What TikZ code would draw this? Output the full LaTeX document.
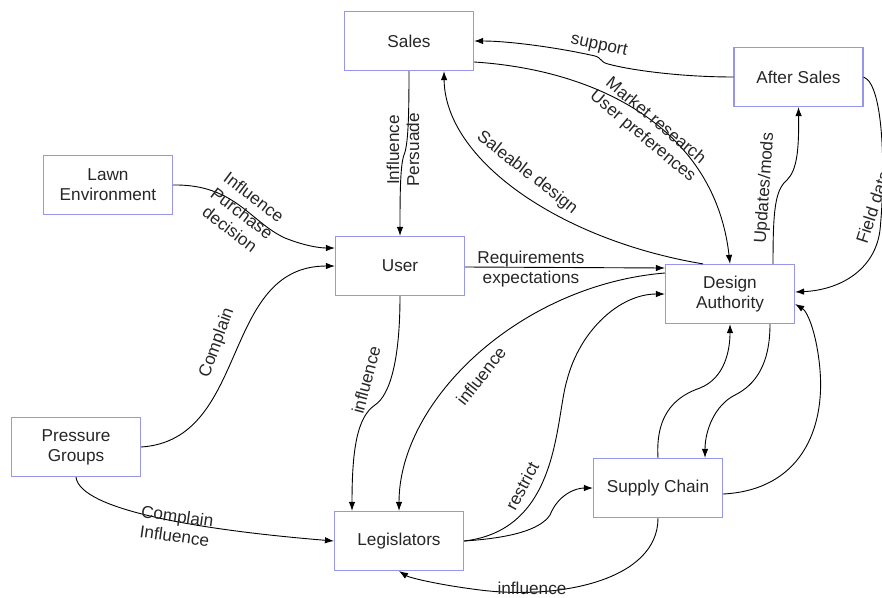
\documentclass[tikz,border=0pt]{standalone}
\usepackage{fontspec}
\setmainfont{Liberation Sans}
\usetikzlibrary{arrows.meta}
\definecolor{boxblue}{RGB}{150,150,235}
\begin{document}
\begin{tikzpicture}[x=1pt,y=-1pt,
 box/.style={draw=boxblue, line width=1.2pt, minimum width=129pt, minimum height=59pt, align=center, inner sep=0pt, font=\fontsize{17.2}{20}\selectfont, text=black!85},
 lbl/.style={font=\fontsize{17.2}{20}\selectfont, align=center, inner sep=0pt, text=black!85},
 conn/.style={line width=0.9pt, -{Latex[length=9pt,width=6.5pt]}}]
\useasboundingbox (0,0) rectangle (882,597);
\node[box] (sales) at (409,41) {Sales};
\node[box] (after) at (798.5,77) {After Sales};
\node[box] (lawn) at (108,185) {Lawn\\Environment};
\node[box] (user) at (400,266) {User};
\node[box] (da) at (730,294) {Design\\Authority};
\node[box] (pg) at (76,447) {Pressure\\Groups};
\node[box] (sc) at (658,488) {Supply Chain};
\node[box] (leg) at (399,541) {Legislators};
% connectors
\draw[conn] (after.west) .. controls (680,77) and (630,70) .. (608,64) .. controls (600,62) and (602,58) .. (595,56) .. controls (560,48) and (510,41) .. (sales.east);
\draw[conn] ([yshift=-21pt]sales.east) .. controls (600,70) and (715,130) .. (da.north);
\draw[conn] ([xshift=-27pt]da.north) .. controls (560,240) and (445,160) .. ([xshift=35pt]sales.south);
\draw[conn] (sales.south) .. controls (409,120) and (408,145) .. (404,155) .. controls (400,165) and (400,200) .. (user.north);
\draw[conn] (lawn.east) .. controls (235,184) and (250,222) .. (285,238) .. controls (305,246) and (320,248) .. ([yshift=18pt]user.west);
\draw[conn] (pg.east) .. controls (250,440) and (220,266) .. (user.west);
\draw[conn] ([yshift=-1pt]user.east) -- ([yshift=26pt]da.west);
\draw[conn] (user.south) .. controls (400,360) and (390,395) .. (375,405) .. controls (357,417) and (352,450) .. ([xshift=-47pt]leg.north);
\draw[conn] ([yshift=21pt]da.west) .. controls (520,285) and (399,400) .. (leg.north);
\draw[conn] (leg.east) .. controls (510,538) and (540,530) .. (550,515) .. controls (558,495) and (575,488) .. (sc.west);
\draw[conn] (leg.east) .. controls (560,530) and (555,420) .. (567,380) .. controls (580,330) and (620,294) .. (da.west);
\draw[conn] (sc.north) .. controls (655,410) and (680,395) .. (700,388) .. controls (725,378) and (730,350) .. (da.south);
\draw[conn] ([xshift=40pt]da.south) .. controls (770,365) and (755,385) .. (735,395) .. controls (715,405) and (705,430) .. ([xshift=47pt]sc.north);
\draw[conn] ([yshift=-6pt]sc.east) .. controls (800,490) and (825,430) .. (820,370) .. controls (817,335) and (808,312) .. ([yshift=-10pt]da.east);
\draw[conn] ([xshift=43pt]da.north) .. controls (773,210) and (775,190) .. (787,180) .. controls (797,170) and (799,150) .. (after.south);
\draw[conn] (after.east) .. controls (885,85) and (885,180) .. (880,230) .. controls (875,270) and (840,290) .. ([yshift=2pt]da.east);
\draw[conn] (sc.south) .. controls (658,580) and (560,600) .. (480,590) .. controls (440,585) and (410,578) .. (leg.south);
\draw[conn] (pg.south) .. controls (80,510) and (200,530) .. (leg.west);
% labels
\node[lbl, rotate=-12] (l1) at (599,46) {support};
\node[lbl, rotate=-40] (l2) at (649,129) {Market research\\User preferences};
\node[lbl, rotate=-38] (l3) at (527,173) {Saleable design};
\node[lbl, rotate=90] (l4) at (403,150) {Influence\\Persuade};
\node[lbl, rotate=-37] (l5) at (242,213) {Influence\\Purchase\\decision};
\node[lbl, rotate=70] (l6) at (217,343) {Complain};
\node[lbl] (l7) at (531,269) {Requirements\\expectations};
\node[lbl, rotate=75] (l8) at (366,380) {influence};
\node[lbl, rotate=52] (l9) at (481,376) {influence};
\node[lbl, rotate=62] (l10) at (522,486) {restrict};
\node[lbl, rotate=86] (l11) at (765,188) {Updates/mods};
\node[lbl, rotate=72] (l12) at (873,207) {Field data};
\node[lbl] (l13) at (532,588) {influence};
\node[lbl, rotate=-8] (l14) at (176,526) {Complain\\Influence};
\end{tikzpicture}
\end{document}
